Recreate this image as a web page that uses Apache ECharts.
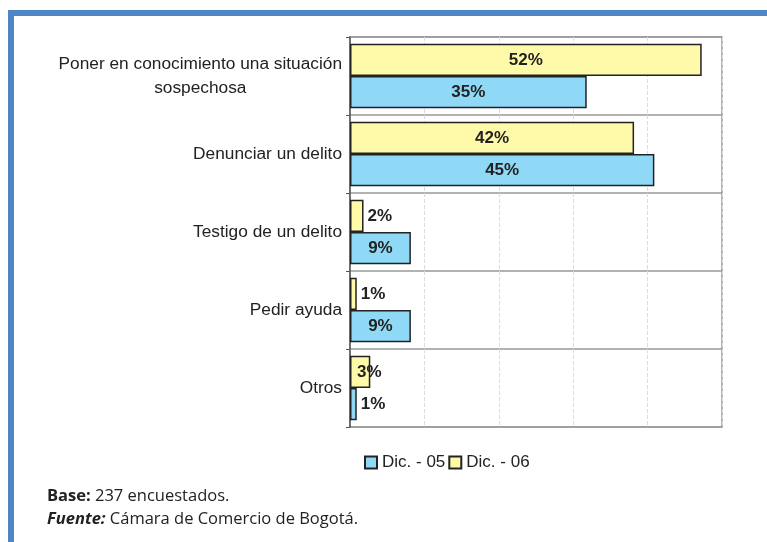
<!DOCTYPE html>
<html>
<head>
<meta charset="utf-8">
<script src="https://cdn.jsdelivr.net/npm/echarts@6/dist/echarts.min.js"></script>
<style>html,body{margin:0;padding:0;background:#fff}#c{width:767px;height:542px}</style>
</head>
<body>
<div id="c"></div>
<script>
const categories = [
  'Poner en conocimiento una situación\nsospechosa',
  'Denunciar un delito',
  'Testigo de un delito',
  'Pedir ayuda',
  'Otros'
];
const seriesNames = ['Dic. - 05', 'Dic. - 06'];
const dic05 = [35, 45, 9, 9, 1];
const dic06 = [52, 42, 2, 1, 3];

const chart = echarts.init(document.getElementById('c'), null, {renderer: 'canvas'});

function mkData(vals, overrides) {
  return vals.map((v, i) => {
    const o = overrides[i];
    const pos = o ? o.position : (v >= 5 ? 'inside' : 'right');
    const lab = {position: pos};
    if (o && o.offset) lab.offset = o.offset;
    return {value: v, label: lab};
  });
}

const FONT = 'Liberation Sans, Arial, sans-serif';
const labelStyle = {
  show: true,
  formatter: '{c}%',
  fontFamily: FONT,
  fontSize: 17,
  fontWeight: 'bold',
  color: '#222',
  distance: 4
};

chart.setOption({
  animation: false,
  backgroundColor: '#fff',
  grid: {left: 350, right: 45, top: 37, bottom: 115, show: true, borderColor: '#999', borderWidth: 1.5},
  legend: {
    data: seriesNames,
    left: 359, top: 449,
    itemWidth: 12, itemHeight: 12, itemGap: 3,
    icon: 'rect',
    textStyle: {fontFamily: FONT, fontSize: 17, color: '#222'}
  },
  xAxis: {
    type: 'value', min: 0, max: 55, interval: 11,
    axisLabel: {show: false}, axisTick: {show: false}, axisLine: {show: false},
    splitLine: {show: true, lineStyle: {color: '#ddd', type: 'dashed', width: 1}}
  },
  yAxis: {
    type: 'category', inverse: true, data: categories,
    axisLine: {show: true, lineStyle: {color: '#555', width: 1.5}},
    axisTick: {show: true, length: 4, lineStyle: {color: '#555'}},
    splitLine: {show: true, lineStyle: {color: '#999', width: 1.5}},
    axisLabel: {
      margin: 8,
      formatter: v => v.split('\n').map(l => '{c|' + l + '}').join('\n'),
      rich: {c: {align: 'center', fontFamily: FONT, fontSize: 17.3, color: '#222', lineHeight: 24}}
    }
  },
  series: [
    {
      name: seriesNames[1], type: 'bar', data: mkData(dic06, {4: {position: 'insideLeft', offset: [3, 0]}}),
      barGap: '0%', barCategoryGap: '17%',
      itemStyle: {color: '#FFFAAA', borderColor: '#222', borderWidth: 1.5},
      label: labelStyle
    },
    {
      name: seriesNames[0], type: 'bar', data: mkData(dic05, {}),
      barGap: '0%', barCategoryGap: '17%',
      itemStyle: {color: '#8FD9F7', borderColor: '#222', borderWidth: 1.5},
      label: labelStyle
    }
  ],
  graphic: [
    {type: 'rect', shape: {x: 11, y: 13, width: 760, height: 600}, style: {fill: 'none', stroke: '#4F86C6', lineWidth: 6}, silent: true},
    {type: 'text', left: 47, top: 488, style: {text: '{b|Base:} 237 encuestados.', fontFamily: 'Open Sans', fontSize: 16.5, fill: '#222',
      rich: {b: {fontFamily: 'Open Sans', fontSize: 16.5, fontWeight: 'bold', fill: '#222'}}}},
    {type: 'text', left: 47, top: 511, style: {text: '{b|Fuente:} Cámara de Comercio de Bogotá.', fontFamily: 'Open Sans', fontSize: 16.5, fill: '#222',
      rich: {b: {fontFamily: 'Open Sans', fontSize: 16.5, fontWeight: 'bold', fontStyle: 'italic', fill: '#222'}}}}
  ]
});
</script>
</body>
</html>
